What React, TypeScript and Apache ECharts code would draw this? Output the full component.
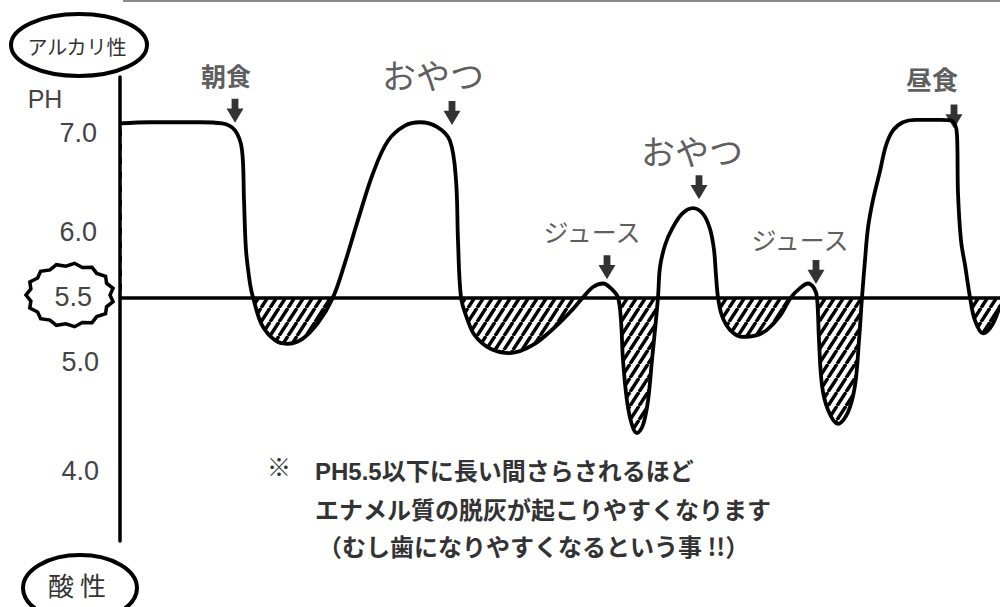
import React, { useEffect, useRef } from 'react';
import * as echarts from 'echarts';

// Stephan curve: time (arbitrary units after start) vs mouth pH
const TIME = [
  0, 30, 80, 102, 115, 122, 124, 126, 130, 133, 142, 155, 167, 182, 198, 213, 225, 237, 253, 268, 285, 300, 317, 330, 336, 338, 341,
  347, 355, 370, 390, 413, 437, 452, 463, 473, 483, 492, 498,
  501, 503, 507, 512, 517, 523, 528, 532, 535, 538,
  540, 545, 552, 562, 573, 583, 590, 594, 596, 598,
  602, 610, 622, 635, 647, 660, 671,
  680, 688, 694, 697,
  699, 702, 708, 718, 728, 735, 739, 742,
  745, 748, 753, 760, 766, 773, 783, 795, 820, 832, 837, 838, 841, 845, 850,
  855, 863, 872, 880,
];
const PH = [
  7.0, 7.01, 7.01, 7.0, 6.94, 6.77, 6.34, 5.91, 5.62, 5.5, 5.26, 5.13, 5.1, 5.14, 5.28, 5.5, 5.8, 6.14, 6.57, 6.85, 6.98, 7.01, 6.97, 6.85, 6.51, 5.99, 5.5,
  5.32, 5.17, 5.06, 5.02, 5.09, 5.26, 5.39, 5.5, 5.59, 5.62, 5.57, 5.5,
  5.3, 4.96, 4.61, 4.4, 4.33, 4.4, 4.61, 4.96, 5.22, 5.5,
  5.76, 5.95, 6.09, 6.22, 6.27, 6.22, 6.09, 5.91, 5.69, 5.5,
  5.34, 5.22, 5.16, 5.17, 5.22, 5.34, 5.5,
  5.58, 5.62, 5.58, 5.5,
  5.13, 4.74, 4.53, 4.41, 4.51, 4.74, 5.13, 5.5,
  5.82, 6.1, 6.34, 6.59, 6.81, 6.94, 7.01, 7.03, 7.03, 7.02, 6.9, 6.4, 5.99, 5.78, 5.5,
  5.3, 5.19, 5.26, 5.43,
];

const EVENT_NAMES = ['朝食', 'おやつ', 'ジュース', 'おやつ', 'ジュース', '昼食'];
const EVENT_TIME = [115, 332, 487, 579, 696, 834];
const EVENT_PH = [7.11, 7.09, 5.76, 6.45, 5.72, 7.06];

const CRITICAL_PH = 5.5;
const TICK_VALUES = [4, 5, 5.5, 6, 7];
const TICK_LABELS = ['4.0', '5.0', '5.5', '6.0', '7.0'];
const NOTE_MARK = '※';
const NOTE_LINES = [
  'PH5.5以下に長い間さらされるほど',
  'エナメル質の脱灰が起こりやすくなります',
  '（むし歯になりやすくなるという事 !!）',
];

const LATIN = "'Liberation Sans', 'Noto Sans CJK JP', sans-serif";
const CJK = "'Noto Sans CJK JP', 'Liberation Sans', sans-serif";
const TEXT = '#333';

const EVENT_LABEL_STYLE = [
  { fontSize: 25, fontWeight: 'bold', offset: [-9, -36] },
  { fontSize: 34, fontWeight: 'normal', offset: [-19, -38] },
  { fontSize: 25, fontWeight: 'normal', offset: [-15, -36] },
  { fontSize: 34, fontWeight: 'normal', offset: [-7, -37] },
  { fontSize: 25, fontWeight: 'normal', offset: [-16, -33] },
  { fontSize: 26, fontWeight: 'bold', offset: [-22, -38] },
];

const TICK_RICH_KEY: Record<string, string> = { '4.0': 'a4', '5.0': 'a5', '5.5': 'h', '6.0': 'a6', '7.0': 'a7' };

const hatchSvg =
  "<svg xmlns='http://www.w3.org/2000/svg' width='9' height='14'>" +
  "<path d='M0,14 L9,0 M-9,14 L0,0 M9,14 L18,0' stroke='black' stroke-width='3.4' fill='none'/></svg>";
const HATCH_URL = 'data:image/svg+xml;charset=utf-8,' + encodeURIComponent(hatchSvg);

const ARROW = 'path://M6,0 L14,0 L14,9 L20,9 L10,22 L0,9 L6,9 Z';

function jaggedOval(cx: number, cy: number, rx: number, ry: number) {
  const pts: number[][] = [];
  const n = 30;
  for (let i = 0; i < n; i++) {
    const a = (i / n) * Math.PI * 2;
    const k = i % 2 === 0 ? 1.0 : 1.1;
    pts.push([cx + Math.cos(a) * rx * k, cy + Math.sin(a) * ry * k]);
  }
  return pts;
}

export default function App() {
  const ref = useRef<HTMLDivElement>(null);
  useEffect(() => {
    document.body.style.margin = '0';
    if (!ref.current) return;
    const chart = echarts.init(ref.current, undefined, { renderer: 'svg' });
    const curve = TIME.map((t, i) => [t, PH[i]]);
    const labelStyle = (size: number) => ({ fontSize: size, fontFamily: LATIN, color: '#444' });
    chart.setOption({
      animation: false,
      backgroundColor: '#fff',
      grid: { left: 120, right: 0, top: 77, bottom: 66 },
      xAxis: { type: 'value', min: 0, max: 880, show: false },
      yAxis: {
        type: 'value',
        min: 3.4,
        max: 7.4,
        z: 6,
        axisLine: { show: true, lineStyle: { color: '#000', width: 3.5 } },
        axisTick: { show: false, customValues: TICK_VALUES },
        splitLine: { show: false },
        axisLabel: {
          customValues: TICK_VALUES,
          margin: 21,
          fontSize: 27,
          fontFamily: LATIN,
          color: '#444',
          formatter: (v: number) => {
            const idx = TICK_VALUES.indexOf(v);
            const txt = idx >= 0 ? TICK_LABELS[idx] : '';
            return `{${TICK_RICH_KEY[txt] || 'a4'}|${txt}}`;
          },
          rich: {
            a4: { ...labelStyle(27), padding: [0, 0, 0, 0] },
            a5: { ...labelStyle(27), padding: [14, 0, 0, 0] },
            a6: { ...labelStyle(27), padding: [0, 2, 14, 0] },
            a7: { ...labelStyle(27), padding: [20, 2, 0, 0] },
            h: { ...labelStyle(27), padding: [0, 7, 0, 0] },
          },
        },
      },
      series: [
        {
          name: 'hatch',
          type: 'line',
          data: curve,
          smooth: 0.35,
          showSymbol: false,
          silent: true,
          z: 0,
          lineStyle: { width: 0, opacity: 0 },
          areaStyle: {
            origin: CRITICAL_PH,
            opacity: 1,
            color: { image: HATCH_URL, repeat: 'repeat', imageWidth: 9, imageHeight: 14 },
          },
          markArea: {
            silent: true,
            z: 1,
            itemStyle: { color: '#fff', borderWidth: 0 },
            label: { show: false },
            data: [[{ xAxis: 2, yAxis: CRITICAL_PH }, { xAxis: 880, yAxis: 7.4 }]],
          },
        },
        {
          name: 'pH',
          type: 'line',
          data: curve,
          smooth: 0.35,
          showSymbol: false,
          z: 3,
          lineStyle: { color: '#000', width: 3.8 },
          markLine: {
            silent: true,
            symbol: ['none', 'none'],
            label: { show: false },
            lineStyle: { color: '#000', width: 3.5, type: 'solid' },
            data: [{ yAxis: CRITICAL_PH }],
          },
        },
        {
          name: 'events',
          type: 'scatter',
          z: 4,
          symbol: ARROW,
          symbolSize: [17, 24],
          itemStyle: { color: '#000' },
          data: EVENT_NAMES.map((n, i) => ({
            name: n,
            value: [EVENT_TIME[i], EVENT_PH[i]],
            label: {
              show: true,
              position: 'inside',
              formatter: n,
              offset: EVENT_LABEL_STYLE[i].offset,
              fontSize: EVENT_LABEL_STYLE[i].fontSize,
              fontWeight: EVENT_LABEL_STYLE[i].fontWeight,
              fontFamily: CJK,
              color: TEXT,
            },
          })),
        },
      ],
      graphic: [
        { type: 'line', shape: { x1: 123, y1: 1, x2: 1000, y2: 1 }, style: { stroke: '#8a8a8a', lineWidth: 2 } },
        { type: 'ellipse', shape: { cx: 79, cy: 45, rx: 68, ry: 31 }, style: { fill: '#fff', stroke: '#000', lineWidth: 4 } },
        { type: 'text', x: 77, y: 46, style: { text: 'アルカリ性', fontSize: 20, fontFamily: CJK, fill: TEXT, align: 'center', verticalAlign: 'middle' } },
        { type: 'text', x: 45, y: 99, style: { text: 'PH', fontSize: 25, fontFamily: LATIN, fill: '#444', align: 'center', verticalAlign: 'middle' } },
        { type: 'polygon', shape: { points: jaggedOval(70, 295, 40, 29) }, style: { fill: 'none', stroke: '#000', lineWidth: 3.5 } },
        { type: 'ellipse', shape: { cx: 80, cy: 588, rx: 57, ry: 33 }, style: { fill: '#fff', stroke: '#000', lineWidth: 4 } },
        { type: 'text', x: 77, y: 584, style: { text: '酸 性', fontSize: 26, fontFamily: CJK, fill: TEXT, align: 'center', verticalAlign: 'middle' } },
        { type: 'text', x: 279, y: 465, style: { text: NOTE_MARK, fontSize: 24, fontFamily: CJK, fontWeight: 'bold', fill: TEXT, align: 'center', verticalAlign: 'middle' } },
        { type: 'text', x: 315, y: 471, style: { text: NOTE_LINES[0], fontSize: 24, fontFamily: LATIN, fontWeight: 'bold', fill: TEXT, verticalAlign: 'middle' } },
        { type: 'text', x: 315, y: 508, style: { text: NOTE_LINES[1], fontSize: 24, fontFamily: CJK, fontWeight: 'bold', fill: TEXT, verticalAlign: 'middle' } },
        { type: 'text', x: 318, y: 545, style: { text: NOTE_LINES[2], fontSize: 24, fontFamily: CJK, fontWeight: 'bold', fill: TEXT, verticalAlign: 'middle' } },
      ],
    });
    return () => chart.dispose();
  }, []);
  return <div ref={ref} style={{ width: 1000, height: 607 }} />;
}
